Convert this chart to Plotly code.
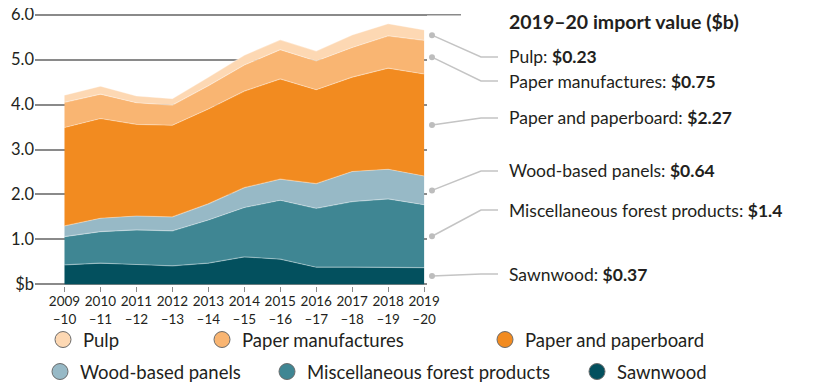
import plotly.graph_objects as go

years = [2009, 2010, 2011, 2012, 2013, 2014, 2015, 2016, 2017, 2018, 2019]
year_labels = ["2009<br>–10", "2010<br>–11", "2011<br>–12", "2012<br>–13", "2013<br>–14",
               "2014<br>–15", "2015<br>–16", "2016<br>–17", "2017<br>–18", "2018<br>–19", "2019<br>–20"]

sawnwood = [0.43, 0.47, 0.44, 0.41, 0.47, 0.61, 0.56, 0.38, 0.38, 0.38, 0.37]
misc_forest = [0.63, 0.70, 0.77, 0.78, 0.96, 1.10, 1.31, 1.31, 1.46, 1.52, 1.40]
wood_panels = [0.24, 0.30, 0.31, 0.31, 0.36, 0.44, 0.47, 0.55, 0.67, 0.66, 0.64]
paper_board = [2.19, 2.22, 2.04, 2.04, 2.11, 2.15, 2.23, 2.09, 2.10, 2.25, 2.27]
paper_manuf = [0.56, 0.54, 0.48, 0.45, 0.52, 0.58, 0.65, 0.64, 0.66, 0.72, 0.75]
pulp = [0.16, 0.18, 0.15, 0.14, 0.19, 0.22, 0.22, 0.22, 0.28, 0.27, 0.23]

series_names = ["Sawnwood", "Miscellaneous forest products", "Wood-based panels",
                "Paper and paperboard", "Paper manufactures", "Pulp"]
series_values = [sawnwood, misc_forest, wood_panels, paper_board, paper_manuf, pulp]
series_colors = ["#03505e", "#3f8693", "#97b9c6", "#f28b20", "#f9b572", "#fdd8b3"]
label_values = ["$0.37", "$1.4", "$0.64", "$2.27", "$0.75", "$0.23"]

y_tickvals = [0, 1, 2, 3, 4, 5, 6]
y_ticktext = ["$b", "1.0", "2.0", "3.0", "4.0", "5.0", "6.0"]

W, H = 816, 392
OFF = 8  # page body margin
# plot area in page pixels
PL, PR, PT, PB = 35, 427, 13, 286
ML, MR, MT, MB = PL - OFF, W - (PR - OFF), PT - OFF, H - (PB - OFF)
X_RANGE = [2008.18, 2019.08]
Y_RANGE = [-0.038, 6.038]
FONT = "Lato, 'Open Sans', sans-serif"
TXT = "#231f20"

def px_to_paper_x(px):
    return (px - PL) / (PR - PL)

def px_to_paper_y(py):
    return (PB - py) / (PB - PT)

def val_to_py(v):
    return PT + (Y_RANGE[1] - v) / (Y_RANGE[1] - Y_RANGE[0]) * (PB - PT)

fig = go.Figure()

for name, vals, col in zip(series_names, series_values, series_colors):
    fig.add_trace(go.Scatter(
        x=years, y=vals, name=name, stackgroup="one", mode="lines",
        line=dict(width=1.2, color="rgba(255,255,255,0.35)"),
        fillcolor=col, showlegend=False, hoverinfo="x+y+name"))

# legend: one legend per entry so positions match
legend_order = ["Pulp", "Paper manufactures", "Paper and paperboard",
                "Wood-based panels", "Miscellaneous forest products", "Sawnwood"]
legend_text_x = [83, 242, 525, 80, 307, 617]
legend_row_y = [340, 340, 340, 372, 372, 372]
layout_legends = {}
for i, nm in enumerate(legend_order):
    idx = series_names.index(nm)
    key = "legend" if i == 0 else f"legend{i+1}"
    fig.add_trace(go.Scatter(
        x=[None], y=[None], mode="markers", name=nm, legend=key,
        marker=dict(size=20, color=series_colors[idx], line=dict(width=1, color="#6b6b6b")),
        showlegend=True))
    layout_legends[key] = dict(
        x=(legend_text_x[i] - OFF - 40) / W, y=1 - (legend_row_y[i] - OFF) / H,
        xref="container", yref="container", xanchor="left", yanchor="middle",
        bgcolor="rgba(0,0,0,0)", borderwidth=0,
        font=dict(family=FONT, size=18.5, color=TXT))

shapes = []
# extension of top gridline
shapes.append(dict(type="line", xref="paper", yref="y", x0=1, x1=px_to_paper_x(461),
                   y0=6, y1=6, line=dict(color="#8a8a8a", width=1.5), layer="below"))

annotations = []
annotations.append(dict(xref="paper", yref="paper", x=px_to_paper_x(507), y=px_to_paper_y(22),
                        xanchor="left", yanchor="middle", showarrow=False,
                        text="<b>2019–20 import value ($b)</b>",
                        font=dict(family=FONT, size=19.5, color=TXT)))

label_y_px = {"Pulp": 57, "Paper manufactures": 81, "Paper and paperboard": 118,
              "Wood-based panels": 171, "Miscellaneous forest products": 210, "Sawnwood": 274}
cum = 0
last = len(years) - 1
for name, vals, lv in zip(series_names, series_values, label_values):
    mid = cum + vals[last] / 2
    cum += vals[last]
    dot_y = val_to_py(mid)
    ly = label_y_px[name]
    dx0, dx1, dx2 = 432, 481, 498
    p = (f"M {px_to_paper_x(dx0)} {px_to_paper_y(dot_y)} "
         f"L {px_to_paper_x(dx1)} {px_to_paper_y(ly)} L {px_to_paper_x(dx2)} {px_to_paper_y(ly)}")
    shapes.append(dict(type="path", xref="paper", yref="paper", path=p,
                       line=dict(color="#c4c4c4", width=1.5)))
    shapes.append(dict(type="circle", xref="paper", yref="paper",
                       xsizemode="pixel", ysizemode="pixel",
                       xanchor=px_to_paper_x(dx0), yanchor=px_to_paper_y(dot_y),
                       x0=-3, x1=3, y0=-3, y1=3,
                       fillcolor="#bdbdbd", line=dict(width=0)))
    annotations.append(dict(xref="paper", yref="paper", x=px_to_paper_x(507), y=px_to_paper_y(ly),
                            xanchor="left", yanchor="middle", showarrow=False,
                            text=f"{name}: <b>{lv}</b>",
                            font=dict(family=FONT, size=17.5, color=TXT)))

fig.update_layout(
    width=W, height=H,
    margin=dict(l=ML, r=MR, t=MT, b=MB, autoexpand=False),
    paper_bgcolor="white", plot_bgcolor="white",
    font=dict(family=FONT, color=TXT),
    xaxis=dict(range=X_RANGE, tickvals=years, ticktext=year_labels, tickangle=0,
               showgrid=False, zeroline=False, showline=False,
               ticks="outside", ticklen=5, tickwidth=1.2, tickcolor="#8a8a8a",
               ticklabelstandoff=-2,
               tickfont=dict(family=FONT, size=13.5, color=TXT)),
    yaxis=dict(range=Y_RANGE, tickvals=y_tickvals, ticktext=y_ticktext,
               showgrid=True, gridcolor="#8a8a8a", gridwidth=1.5, zeroline=False,
               showline=False, ticks="", ticklabeloverflow="allow",
               tickfont=dict(family=FONT, size=16.5, color=TXT)),
    shapes=shapes, annotations=annotations,
    **layout_legends,
)

fig.write_html("out.html")
